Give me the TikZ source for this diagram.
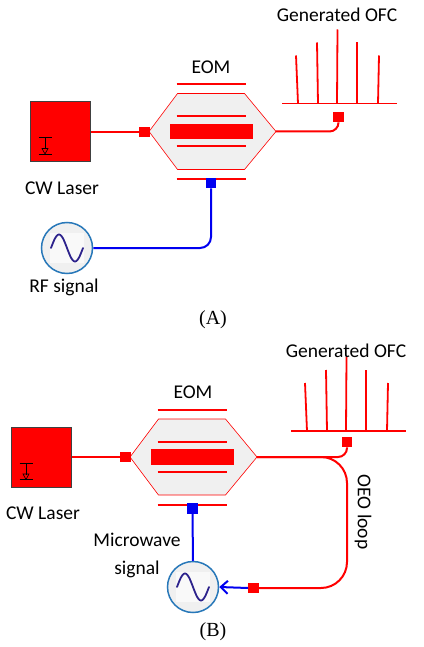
\documentclass[tikz,border=0pt]{standalone}
\usepackage{fontspec}
\setmainfont{Carlito}
\newfontfamily\capfont{Liberation Serif}
\usetikzlibrary{arrows.meta}
\definecolor{pured}{RGB}{255,0,0}
\definecolor{publue}{RGB}{0,0,240}
\definecolor{ringblue}{RGB}{40,120,185}
\definecolor{hexgray}{RGB}{240,240,240}
\definecolor{sinecol}{RGB}{45,35,140}
\tikzset{
  redline/.style={draw=pured,line width=2pt},
  blueline/.style={draw=publue,line width=2pt},
  lasernode/.style={draw=black!75,line width=1pt,fill=pured,minimum size=60pt,inner sep=0pt},
  redport/.style={fill=pured,minimum size=10.5pt,inner sep=0pt},
  blueport/.style={fill=publue,minimum size=10.5pt,inner sep=0pt},
  source/.style={circle,draw=ringblue,line width=1.5pt,fill=hexgray,minimum size=51pt,inner sep=0pt},
  label/.style={font=\fontsize{19.5}{22}\selectfont,inner sep=0pt,text=black},
  caption/.style={font=\capfont\fontsize{20}{22}\selectfont,inner sep=0pt,text=black},
  electrode/.style={draw=pured,line width=2pt},
  corepiece/.style={fill=pured,minimum width=83pt,minimum height=15.5pt,inner sep=0pt},
  combline/.style={draw=pured,line width=1.8pt},
}
% modulator body, centre at (#1,#2), prefix #3
\newcommand{\modulator}[3]{%
  \begin{scope}[shift={(#1,#2)}]
    \coordinate (#3L) at (-62.5,0);
    \coordinate (#3R) at (64.5,0);
    \fill[hexgray] (-62.5,0) -- (-34,-38) -- (33,-38) -- (64.5,0) -- (33,38) -- (-34,38) -- cycle;
    \draw[pured,line width=.6pt] (-62.5,0) -- (-34,-38) -- (33,-38) -- (64.5,0) -- (33,38) -- (-34,38) -- cycle;
    \draw[electrode] (-35,-47.5) -- (34,-47.5);
    \draw[electrode] (-35,47.5) -- (34,47.5);
    \draw[electrode] (-35,-15) -- (34,-15);
    \draw[electrode] (-35,15) -- (34,15);
    \node[corepiece] (#3core) at (-0.5,0) {};
  \end{scope}}
% laser symbol inside the box, box centre at (#1,#2)
\newcommand{\lasersym}[2]{%
  \begin{scope}[shift={(#1,#2)},line width=.9pt,draw=black]
    \draw (-22,5.5) -- (-9,5.5);
    \draw (-22,22) -- (-9,22);
    \draw (-15.5,5.5) -- (-15.5,17);
    \draw[line width=.6pt] (-18.5,16.5) -- (-12.5,16.5) -- (-15.5,22) -- cycle;
  \end{scope}}
% sine inside the source
\newcommand{\sinesym}[2]{%
  \begin{scope}[shift={(#1,#2)}]
    \fill[white,opacity=.6] (-17,-15) rectangle (17,15);
    \draw[sinecol,line width=1.8pt,line cap=round] plot[domain=0:360,samples=50] ({-16+32*\x/360},{-13.5*sin(\x)});
  \end{scope}}
\newcommand{\comb}[2]{%
  \begin{scope}[shift={(#1,#2)}]
    \draw[combline] (-55,0) -- (60,0);
    \draw[combline] (-39,0) -- (-41,-48);
    \draw[combline] (-19,0) -- (-20,-61);
    \draw[combline] (0,0) -- (0.5,-74);
    \draw[combline] (20,0) -- (20,-61);
    \draw[combline] (41,0) -- (42,-48);
  \end{scope}}
\begin{document}
\begin{tikzpicture}[x=1pt,y=-1pt]
\useasboundingbox (0,0) rectangle (423,647);
% ---------- panel A
\node[label] (ofcA) at (337,15) {Generated OFC};
\comb{337}{103.5}
\modulator{211.5}{131.5}{a}
\node[label] (eomA) at (211,67) {EOM};
\node[lasernode] (laserA) at (60.5,132) {};
\lasersym{60.5}{132}
\node[label] (cwA) at (62,188) {CW Laser};
\node[redport] (inA) at (144.5,132) {};
\node[redport] (outA) at (338.5,117) {};
\node[blueport] (rfA) at (211,183) {};
\node[source] (srcA) at (67,248) {};
\sinesym{67}{248}
\node[label] (rfl) at (64,287) {RF signal};
\node[caption] (capA) at (213,320) {(A)};
\draw[redline] (laserA.east |- inA) -- (inA);
\draw[redline,rounded corners=9pt] (aR) -| (outA.south);
\draw[blueline,rounded corners=11pt] (rfA.south) |- (srcA.east);
% ---------- panel B
\node[label] (ofcB) at (346,351) {Generated OFC};
\comb{346}{431}
\modulator{192.5}{457}{b}
\node[label] (eomB) at (193,392) {EOM};
\node[lasernode] (laserB) at (41.5,457.5) {};
\lasersym{41.5}{457.5}
\node[label] (cwB) at (43,513) {CW Laser};
\node[redport] (inB) at (125.5,457) {};
\node[redport] (outB) at (347,442) {};
\node[blueport] (mwB) at (192.5,508.5) {};
\node[source] (srcB) at (193,587) {};
\sinesym{193}{587}
\node[redport] (retB) at (253.5,588) {};
\node[label] (mwl1) at (137,540) {Microwave};
\node[label] (mwl2) at (137,569) {signal};
\node[label,rotate=-90] (oeo) at (363,512) {OEO loop};
\node[caption] (capB) at (213,632) {(B)};
\draw[redline] (laserB.east |- inB) -- (inB);
\draw[redline,rounded corners=9pt] (bR) -| (outB.south);
\coordinate (loopA) at (347,520);
\draw[redline,rounded corners=26pt] (bR) -| (loopA) |- (retB.east);
\draw[blueline] (mwB.south) -- (srcB.north);
\draw[blueline,-{Straight Barb[length=7pt,width=13pt,line width=2pt]}] (retB.west) -- (srcB.east);
\end{tikzpicture}
\end{document}
